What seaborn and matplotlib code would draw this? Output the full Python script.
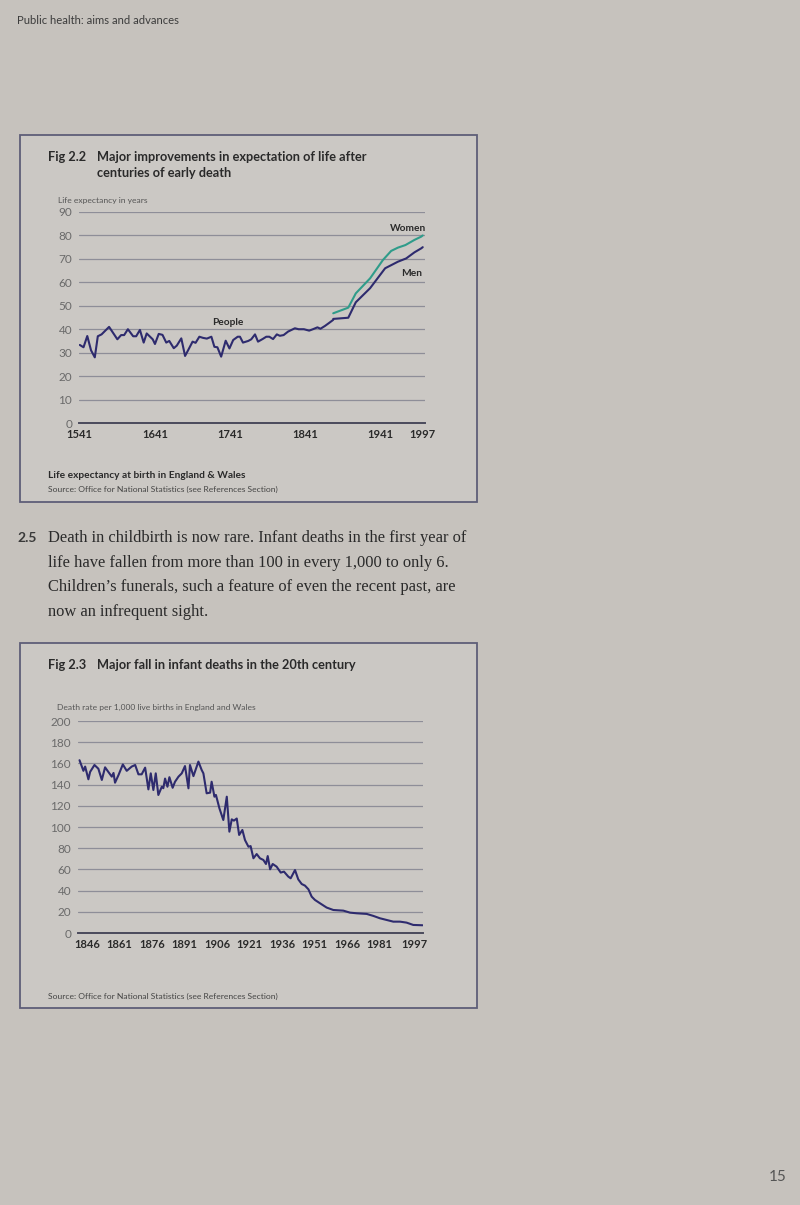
import matplotlib
matplotlib.use("Agg")
import matplotlib.pyplot as plt
import seaborn as sns
import pandas as pd
from matplotlib.patches import Rectangle

# Fig 2.2 - life expectancy at birth (years)
people_years = [1541, 1546, 1551, 1556, 1561, 1565, 1570, 1580, 1591, 1596, 1600, 1605,
                1612, 1616, 1621, 1626, 1630, 1638, 1641, 1646, 1651, 1656, 1660, 1666,
                1670, 1676, 1681, 1685, 1691, 1695, 1700, 1705, 1710, 1716, 1720, 1724,
                1729, 1735, 1740, 1745, 1751, 1754, 1758, 1765, 1769, 1774, 1778, 1784,
                1789, 1793, 1798, 1803, 1807, 1812, 1818, 1827, 1832, 1839, 1846, 1851,
                1857, 1861, 1867, 1873, 1878]
people_life = [33.3, 32.3, 37.1, 31.0, 28.0, 37.0, 37.8, 41.0, 35.7, 37.5, 37.5, 40.0,
               37.0, 37.0, 39.7, 34.3, 38.2, 35.7, 33.7, 38.0, 37.6, 34.3, 35.0, 31.9,
               33.0, 36.1, 28.6, 31.0, 34.7, 34.2, 36.8, 36.3, 36.0, 36.8, 32.5, 32.3,
               28.3, 35.1, 31.8, 35.4, 36.8, 36.8, 34.3, 35.0, 35.7, 37.8, 34.7, 35.8,
               36.8, 36.8, 35.8, 37.8, 37.2, 37.5, 39.0, 40.4, 40.0, 40.0, 39.4, 40.0,
               40.8, 40.2, 41.4, 42.8, 44.0]
men_years = [1878, 1898, 1908, 1927, 1947, 1964, 1975, 1986, 1995, 1997]
men_life = [44.4, 44.9, 51.5, 57.5, 66.0, 68.8, 70.2, 72.8, 74.5, 75.0]
women_years = [1878, 1898, 1908, 1927, 1944, 1955, 1964, 1974, 1986, 1995, 1997]
women_life = [46.8, 49.2, 55.3, 61.7, 69.5, 73.4, 74.8, 75.9, 78.1, 79.5, 80.0]
life_ticks = [1541, 1641, 1741, 1841, 1941, 1997]

# Fig 2.3 - infant deaths per 1,000 live births
infant_years = [1842.5, 1844.3, 1845.1, 1846.6, 1847.4, 1849.4, 1851.2, 1852.8, 1854.3,
                1855.8, 1857.4, 1858.2, 1858.9, 1860.5, 1862.5, 1864.3, 1866.6, 1868.2,
                1869.7, 1871.2, 1872.8, 1874.3, 1875.4, 1876.6, 1877.7, 1878.9, 1880.5,
                1881.2, 1882.0, 1883.1, 1884.0, 1885.5, 1886.6, 1888.2, 1889.7, 1891.2,
                1892.8, 1893.5, 1895.1, 1897.4, 1898.9, 1899.7, 1901.2, 1902.8, 1903.5,
                1904.8, 1905.5, 1907.1, 1908.9, 1910.5, 1911.7, 1912.8, 1913.8, 1915.1,
                1916.2, 1917.7, 1918.9, 1920.5, 1921.5, 1922.8, 1924.3, 1925.8, 1927.4,
                1928.6, 1929.4, 1930.5, 1931.7, 1933.5, 1935.4, 1936.9, 1938.9, 1940.0,
                1942.0, 1943.5, 1945.1, 1946.6, 1948.2, 1949.7, 1951.2, 1953.5, 1956.6,
                1959.7, 1964.3, 1967.4, 1970.5, 1975.1, 1978.2, 1981.2, 1984.3, 1987.4,
                1990.5, 1993.5, 1996.6, 2000.9]
infant_rate = [163.0, 153.0, 157.0, 145.0, 152.0, 158.5, 155.0, 144.4, 156.3,
               152.0, 147.5, 151.0, 141.8, 149.0, 159.0, 153.0, 157.0, 158.5,
               149.7, 149.7, 156.0, 135.5, 150.6, 134.9, 150.6, 130.2, 138.0,
               136.6, 145.7, 138.0, 147.0, 137.0, 142.7, 147.5, 150.6, 157.5,
               136.5, 158.5, 148.0, 161.7, 153.8, 150.6, 131.8, 132.4, 142.7,
               128.6, 130.2, 117.6, 106.6, 128.6, 95.6, 107.2, 106.0, 108.0,
               92.5, 97.2, 87.7, 81.4, 82.0, 70.5, 74.5, 70.5, 68.9,
               65.1, 72.6, 60.1, 65.1, 62.6, 57.0, 57.9, 53.2, 51.6,
               59.4, 50.6, 46.2, 44.7, 41.2, 34.3, 31.2, 28.1, 24.0,
               21.7, 21.1, 19.2, 18.6, 18.0, 16.1, 13.9, 12.3, 10.7,
               10.7, 9.8, 7.6, 7.3]
infant_ticks = [1846, 1861, 1876, 1891, 1906, 1921, 1936, 1951, 1966, 1981, 1997]

PAGE = "#c6c2bd"
BOX = "#cbc8c4"
NAVY = "#2e2b6e"
TEAL = "#2f9c8a"
GRID = "#8e8e98"
DARK = "#2a2a2a"
W, H = 800, 1205

sns.set_style("white")
plt.rcParams["font.family"] = ["Lato", "DejaVu Sans"]

fig = plt.figure(figsize=(W / 100, H / 100), dpi=100)
fig.patch.set_facecolor(PAGE)


def fx(x):
    return x / W


def fy(y):
    return 1 - y / H


def txt(x, y, s, **kw):
    kw.setdefault("va", "center")
    fig.text(fx(x), fy(y), s, **kw)


def box(y0, y1):
    fig.patches.append(Rectangle((fx(20), fy(y1)), fx(477) - fx(20), fy(y0) - fy(y1),
                                 transform=fig.transFigure, facecolor=BOX,
                                 edgecolor="#5e5e78", lw=1.3, zorder=-5))


def style_axis(ax, ymax, step):
    ax.set_facecolor("none")
    for s in ["top", "right", "left"]:
        ax.spines[s].set_visible(False)
    ax.spines["bottom"].set_color("#4a4a5c")
    ax.spines["bottom"].set_linewidth(1.4)
    ax.set_ylim(0, ymax)
    ax.set_yticks(range(0, ymax + 1, step))
    ax.yaxis.grid(True, color=GRID, lw=0.9)
    ax.set_axisbelow(True)
    ax.tick_params(axis="y", length=0, pad=5, labelsize=8.5, labelcolor="#6a6a6a")
    ax.tick_params(axis="x", length=0, pad=4, labelsize=8, labelcolor=DARK)
    for lab in ax.get_xticklabels():
        lab.set_fontweight("bold")
    ax.set_xlabel("")
    ax.set_ylabel("")


# header
txt(17, 21, "Public health: aims and advances", fontsize=8.1, color="#3c3c3c")

# ---- Fig 2.2 ----
box(135, 502)
txt(48, 157, "Fig 2.2", fontsize=9.2, fontweight="bold", color=DARK)
txt(97, 157, "Major improvements in expectation of life after", fontsize=9.2,
    fontweight="bold", color=DARK)
txt(97, 173, "centuries of early death", fontsize=9.2, fontweight="bold", color=DARK)
txt(58, 201, "Life expectancy in years", fontsize=6.1, color="#555555")

ax1 = fig.add_axes([fx(79), fy(423), fx(425) - fx(79), fy(212) - fy(423)])
df_people = pd.DataFrame({"year": people_years, "life": people_life})
df_men = pd.DataFrame({"year": men_years, "life": men_life})
df_women = pd.DataFrame({"year": women_years, "life": women_life})
sns.lineplot(data=df_people, x="year", y="life", ax=ax1, color=NAVY, lw=1.5)
sns.lineplot(data=df_men, x="year", y="life", ax=ax1, color=NAVY, lw=1.5)
sns.lineplot(data=df_women, x="year", y="life", ax=ax1, color=TEAL, lw=1.5)
ax1.set_xlim(1540, 2000)
ax1.set_xticks(life_ticks)
style_axis(ax1, 90, 10)
ax1.text(1738, 43, "People", ha="center", va="center", fontsize=7.3,
         fontweight="bold", color=DARK)
ax1.text(1977, 82.8, "Women", ha="center", va="center", fontsize=7.3,
         fontweight="bold", color=DARK)
ax1.text(1982, 63.6, "Men", ha="center", va="center", fontsize=7.3,
         fontweight="bold", color=DARK)

txt(48, 476, "Life expectancy at birth in England & Wales", fontsize=7.3,
    fontweight="bold", color=DARK)
txt(48, 489, "Source: Office for National Statistics (see References Section)",
    fontsize=6.1, color="#444444")

# ---- paragraph ----
para = ["Death in childbirth is now rare. Infant deaths in the first year of",
        "life have fallen from more than 100 in every 1,000 to only 6.",
        "Children\u2019s funerals, such a feature of even the recent past, are",
        "now an infrequent sight."]
txt(17, 538, "2.5", fontsize=10, fontweight="bold", color="#3a3a3a")
for i, line in enumerate(para):
    txt(48, 538 + i * 24.7, line, fontsize=11.85, color="#2a2a2a",
        family="Liberation Serif")

# ---- Fig 2.3 ----
box(643, 1008)
txt(48, 665, "Fig 2.3", fontsize=9.2, fontweight="bold", color=DARK)
txt(97, 665, "Major fall in infant deaths in the 20th century", fontsize=9.2,
    fontweight="bold", color=DARK)
txt(57, 707, "Death rate per 1,000 live births in England and Wales", fontsize=6.1,
    color="#555555")

ax2 = fig.add_axes([fx(78), fy(933), fx(423) - fx(78), fy(721) - fy(933)])
df_inf = pd.DataFrame({"year": infant_years, "rate": infant_rate})
sns.lineplot(data=df_inf, x="year", y="rate", ax=ax2, color=NAVY, lw=1.5)
ax2.set_xlim(1841.8, 2001.1)
ax2.set_xticks(infant_ticks)
style_axis(ax2, 200, 20)

txt(48, 996, "Source: Office for National Statistics (see References Section)",
    fontsize=6.1, color="#444444")

# page number
txt(778, 1177, "15", fontsize=11, color="#555555", ha="center")

fig.savefig("out.png", dpi=100, facecolor=PAGE)
